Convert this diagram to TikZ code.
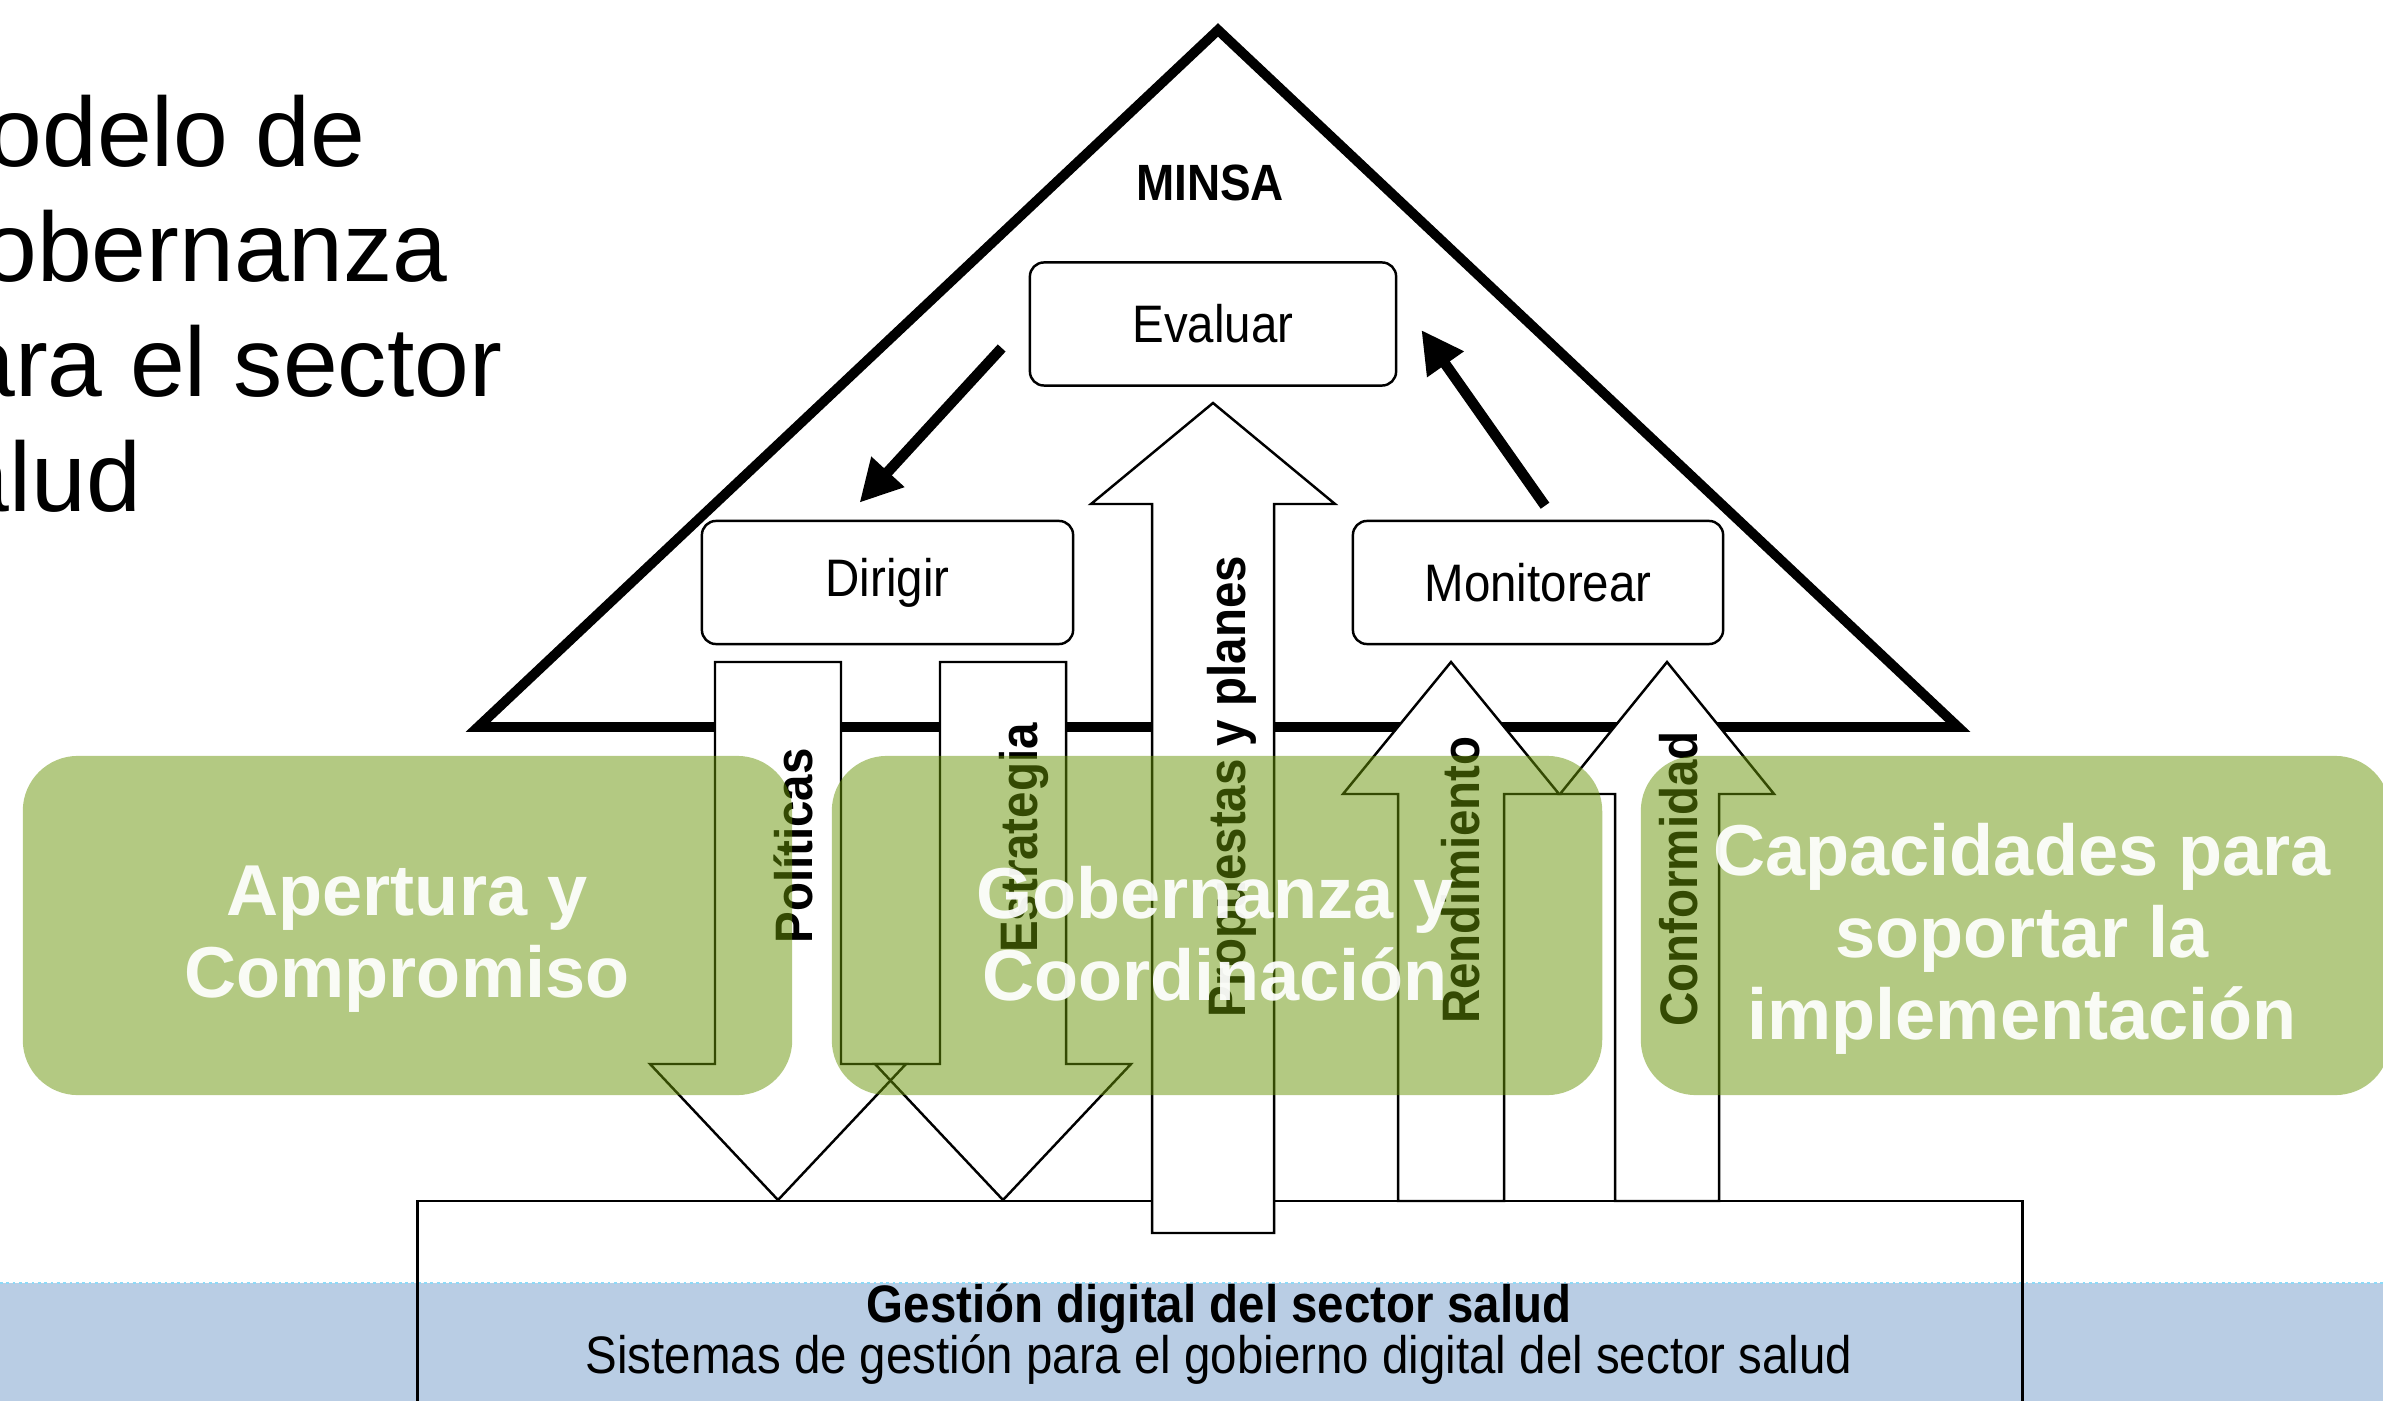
\documentclass[tikz,border=0pt]{standalone}
\usepackage{fontspec}
\setmainfont{Liberation Sans}
\newfontfamily\angosta[FakeStretch=0.9]{Liberation Sans}
\usetikzlibrary{calc,arrows.meta}

\definecolor{verde}{RGB}{104,148,6}
\definecolor{azulbanda}{RGB}{185,205,228}

\begin{document}
\begin{tikzpicture}[x=0.01cm, y=-0.01cm]
    \tikzstyle{titulo}=[anchor=base west, inner sep=0pt, font=\fontsize{28}{32}\selectfont]
    \tikzstyle{caja}=[draw=black, line width=0.7pt, fill=white, rounded corners=0.14cm, minimum height=1.23cm, inner sep=0pt, font=\angosta\fontsize{15}{18}\selectfont]
    \tikzstyle{pilar}=[fill=verde, fill opacity=0.5, rounded corners=0.55cm, minimum height=3.39cm, inner sep=0pt]
    \tikzstyle{pilar texto}=[text=white, text opacity=0.93, align=center, inner sep=0pt, font=\bfseries\fontsize{20.5}{23.3}\selectfont]
    \tikzstyle{flecha hueca}=[draw=black, line width=0.7pt, fill=white, line join=miter]
    \tikzstyle{etiqueta}=[rotate=90, anchor=base, inner sep=0pt, font=\angosta\bfseries\fontsize{15}{18}\selectfont]
    \tikzstyle{flecha gruesa}=[line width=3pt, -{Triangle[length=0.42cm, width=0.42cm]}]
    \tikzstyle{texto gestion}=[anchor=base, inner sep=0pt, font=\angosta\fontsize{15}{18}\selectfont]

    \useasboundingbox (0,0) rectangle (2383,1401);

    % Title, cut at the left edge
    \foreach \linea [count=\i] in {Modelo de, Gobernanza, para el sector, salud}
      \node[titulo] (T-\i) at (-95,{167+115*(\i-1)}) {\linea};

    % Blue band at the bottom
    \fill[azulbanda] (0,1283) rectangle (2383,1401);
    \draw[cyan!45, line width=0.8pt, densely dotted] (0,1283) -- (2383,1283);

    % MINSA triangle
    \draw[line width=2.8pt, line join=miter] (478,727) -- (1218,30) -- (1958,727) -- cycle;
    \node[font=\angosta\bfseries\fontsize{14.5}{17}\selectfont] (minsa) at (1210,183) {MINSA};

    % Draw the three boxes
    \node[caja, minimum width=3.66cm] (evaluar) at (1213,324) {Evaluar};
    \node[caja, minimum width=3.71cm] (dirigir) at (887.5,582.5) {Dirigir};
    \node[caja, minimum width=3.70cm] (monitorear) at (1538,582.5) {Monitorear};

    \draw[flecha gruesa] ($(evaluar.west)+(-27,24)$) -- ($(dirigir.north)+(-28,-17)$);
    \draw[flecha gruesa] ($(monitorear.north)+(7,-14)$) -- ($(evaluar.east)+(24,6)$);

    % Base box
    \node[draw, line width=0.8pt, minimum width=16.04cm, minimum height=2.4cm, inner sep=0pt] (gestion) at (1220,1321) {};

    % Block arrows going down (fill first, so both crossing edges show)
    \foreach \xc in {778,1003}
      \fill[white] (\xc-63,662) -- (\xc+63,662) -- (\xc+63,1064) -- (\xc+128,1064) -- (\xc,1200) -- (\xc-128,1064) -- (\xc-63,1064) -- cycle;
    \foreach \xc in {778,1003}
      \draw[flecha hueca, fill=none] (\xc-63,662) -- (\xc+63,662) -- (\xc+63,1064) -- (\xc+128,1064) -- (\xc,1200) -- (\xc-128,1064) -- (\xc-63,1064) -- cycle;

    % Block arrows going up
    \foreach \xc/\sh/\hh/\yt/\yb/\ybot in {1213/61/122/403/504/1233, 1451/53/108/662/794/1201, 1667/52/107/662/794/1201}
      \draw[flecha hueca] (\xc-\sh,\ybot) -- (\xc-\sh,\yb) -- (\xc-\hh,\yb) -- (\xc,\yt) -- (\xc+\hh,\yb) -- (\xc+\sh,\yb) -- (\xc+\sh,\ybot) -- cycle;

    % Annotate the arrows
    \node[etiqueta] (politicas) at (812,846) {Políticas};
    \node[etiqueta] (estrategia) at (1037,838) {Estrategia};
    \node[etiqueta] (propuestas) at (1245,787) {Propuestas y planes};
    \node[etiqueta] (rendimiento) at (1479,880) {Rendimiento};
    \node[etiqueta] (conformidad) at (1697,879) {Conformidad};

    % Green pillars on top
    \node[pilar, minimum width=7.69cm] (apertura) at (407.5,925.5) {};
    \node[pilar, minimum width=7.70cm] (gobernanza) at (1217,925.5) {};
    \node[pilar, minimum width=7.49cm] (capacidades) at (2015.5,925.5) {};
    \node[pilar texto] (apertura-texto) at (407,939) {Apertura y\\Compromiso};
    \node[pilar texto] (gobernanza-texto) at (1215,934) {Gobernanza y\\Coordinación};
    \node[pilar texto] (capacidades-texto) at (2022,938.5) {Capacidades para\\soportar la\\implementación};

    % Text in the base box
    \node[texto gestion, font=\angosta\bfseries\fontsize{15}{18}\selectfont] (gestion-titulo) at (1219,1322) {Gestión digital del sector salud};
    \node[texto gestion] (gestion-texto) at (1219,1373) {Sistemas de gestión para el gobierno digital del sector salud};
\end{tikzpicture}
\end{document}
